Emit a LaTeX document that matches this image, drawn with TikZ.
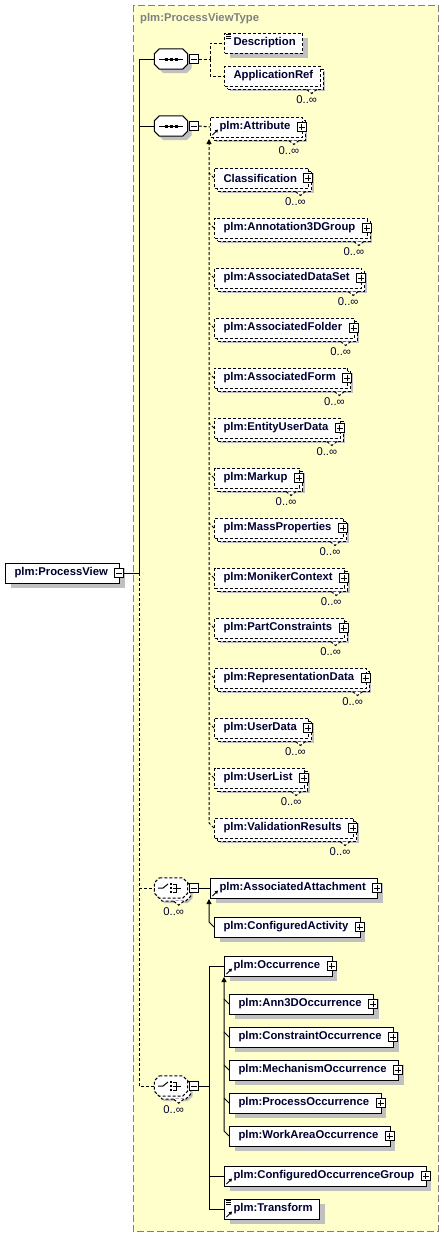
\documentclass[tikz,border=0pt]{standalone}
\usepackage{fontspec}
\setmainfont{Liberation Sans}
\usepackage{tikz}
\usetikzlibrary{arrows.meta,positioning,shadows}
\definecolor{bgyellow}{RGB}{255,255,204}
\definecolor{framegray}{RGB}{128,128,128}
\definecolor{shadowgray}{RGB}{192,192,192}
\definecolor{namecol}{RGB}{0,0,48}
\tikzset{
  elembox/.style={
    rectangle,
    draw=black,
    fill=white,
    line width=1pt,
    font=\bfseries\fontsize{11.3}{13}\selectfont,
    text=namecol,
    minimum height=20pt,
    inner sep=0pt,
    execute at begin node={\hspace*{9pt}},
    execute at end node={\hspace*{#1}},
    anchor=west,
    drop shadow={shadow xshift=5pt,shadow yshift=-5pt,fill=shadowgray,opacity=1}
  },
  elembox/.default=12pt,
  optbox/.style={dash pattern=on 3pt off 2pt},
  multibox/.style={
    general shadow={shadow xshift=3pt,shadow yshift=-3pt,draw=black,fill=white,line width=1pt,dash pattern=on 3pt off 2pt}
  },
  symbox/.style={
    rectangle,
    minimum width=33pt,
    minimum height=20pt,
    inner sep=0pt
  },
  minusbox/.style={
    rectangle,
    draw=black,
    fill=white,
    line width=1pt,
    minimum size=9pt,
    inner sep=0pt,
    path picture={
      \draw[line width=1pt] ([xshift=-3pt]path picture bounding box.center) -- ([xshift=3pt]path picture bounding box.center);
    }
  },
  plusbox/.style={
    rectangle,
    draw=black,
    fill=white,
    line width=1pt,
    minimum size=9pt,
    inner sep=0pt,
    path picture={
      \draw[line width=1pt] ([xshift=-3pt]path picture bounding box.center) -- ([xshift=3pt]path picture bounding box.center);
      \draw[line width=1pt] ([yshift=-3pt]path picture bounding box.center) -- ([yshift=3pt]path picture bounding box.center);
    }
  },
  multlabel/.style={font=\fontsize{11.3}{13}\selectfont, text=namecol, inner sep=0pt},
  typetitle/.style={font=\bfseries\fontsize{11.3}{13}\selectfont, text=framegray, inner sep=0pt, anchor=west},
  treeline/.style={line width=1pt},
  optline/.style={line width=1pt, dash pattern=on 3pt off 2pt},
  subarrow/.style={-{Triangle[length=5pt,width=5pt]}}
}
\newcommand{\octshape}[2]{%
  \path[line width=1pt,#2] ([xshift=5pt]#1.north west) -- ([xshift=-5pt]#1.north east) -- ([yshift=-5pt]#1.north east) -- ([yshift=5pt]#1.south east) -- ([xshift=-5pt]#1.south east) -- ([xshift=5pt]#1.south west) -- ([yshift=5pt]#1.south west) -- ([yshift=-5pt]#1.north west) -- cycle;}
\newcommand{\seqmark}[1]{%
  \octshape{#1}{fill=shadowgray,transform canvas={shift={(4pt,-4pt)}}}
  \octshape{#1}{draw=black,fill=white}
  \draw[line width=1pt] ([xshift=-12pt]#1.center) -- ([xshift=12pt]#1.center);
  \draw[line width=3pt,dash pattern=on 3pt off 2pt] ([xshift=-6.5pt]#1.center) -- ([xshift=6.5pt]#1.center);}
\newcommand{\choicemark}[1]{%
  \octshape{#1}{fill=shadowgray,transform canvas={shift={(5pt,-5pt)}}}
  \octshape{#1}{draw=black,fill=white,dash pattern=on 3pt off 2pt,transform canvas={shift={(3pt,-3pt)}}}
  \octshape{#1}{draw=black,fill=white,dash pattern=on 3pt off 2pt}
  \draw[line width=1pt] ([xshift=-13pt]#1.center) -- ++(5pt,0pt) -- ++(5pt,4pt);
  \draw[line width=2.5pt,dash pattern=on 2.5pt off 1.5pt] ([yshift=5.25pt]#1.center) -- ([yshift=-5.25pt]#1.center);
  \draw[line width=1pt] ([shift={(2pt,4pt)}]#1.center) -- ++(3pt,0pt) -- ++(0pt,-8pt) -- ++(-3pt,0pt);
  \draw[line width=1pt] ([xshift=2pt]#1.center) -- ++(8pt,0pt);}
\newcommand{\plusmark}[1]{\node[plusbox] (#1-plus) at ([xshift=-1pt]#1.east) {};}
\newcommand{\multmark}[1]{%
  \draw[line width=1pt,dash pattern=on 3pt off 2pt,fill=white] ([shift={(-14pt,-3pt)}]#1.south east) -- ([shift={(-9pt,-7pt)}]#1.south east) -- ([shift={(-4pt,-3pt)}]#1.south east);
  \node[multlabel] (#1-mult) at ([shift={(-14pt,-13pt)}]#1.south east) {0..∞};}
\newcommand{\docmark}[1]{%
  \draw[line width=0.8pt] ([shift={(2pt,-1.5pt)}]#1.north west) -- ++(5pt,0pt)
    ([shift={(2pt,-3.5pt)}]#1.north west) -- ++(5pt,0pt)
    ([shift={(2pt,-5.5pt)}]#1.north west) -- ++(5pt,0pt);}
\newcommand{\refmark}[1]{%
  \draw[line width=1pt,-{Triangle[length=3pt,width=3.5pt]}] ([shift={(2.5pt,2.5pt)}]#1.south west) -- ([shift={(8pt,8pt)}]#1.south west);}

\begin{document}
\begin{tikzpicture}[x=1pt,y=-1pt]
  \useasboundingbox (0,0) rectangle (444,1237);
  \fill[white] (0,0) rectangle (444,1237);
  \draw[framegray,line width=1pt,dash pattern=on 7pt off 3pt,fill=bgyellow] (133,5) rectangle (438,1231);
  \node[typetitle] (typename) at (140,19) {plm:ProcessViewType};

  \node[elembox] (pv) at (5,573) {plm:ProcessView};
  \node[minusbox] (pv-minus) at ([xshift=-1pt]pv.east) {};
  \coordinate (pvjoin) at (139,573);

  \node[symbox] (seq1) at (171,59) {};
  \seqmark{seq1}
  \node[minusbox,anchor=west] (seq1-minus) at ([xshift=1pt]seq1.east) {};
  \coordinate (seq1fork) at (210,59);
  \node[elembox=7pt,optbox] (desc) at (224,43) {Description};
  \node[elembox=7pt,optbox,multibox] (appref) at (224,76) {ApplicationRef};

  \node[symbox] (seq2) at (171,126) {};
  \seqmark{seq2}
  \node[minusbox,anchor=west] (seq2-minus) at ([xshift=1pt]seq2.east) {};
  \node[elembox,optbox,multibox] (attr) at (210,127) {plm:Attribute};
  \coordinate (attrsubtop) at (209,139);
  \node[elembox,optbox,multibox] (cls) at (214,178) {Classification};
  \node[elembox,optbox,multibox,below right=29pt and 0pt of cls.south west] (annot) {plm:Annotation3DGroup};
  \node[elembox,optbox,multibox,below right=29pt and 0pt of annot.south west] (dataset) {plm:AssociatedDataSet};
  \node[elembox,optbox,multibox,below right=29pt and 0pt of dataset.south west] (folder) {plm:AssociatedFolder};
  \node[elembox,optbox,multibox,below right=29pt and 0pt of folder.south west] (form) {plm:AssociatedForm};
  \node[elembox,optbox,multibox,below right=29pt and 0pt of form.south west] (entity) {plm:EntityUserData};
  \node[elembox,optbox,multibox,below right=29pt and 0pt of entity.south west] (markup) {plm:Markup};
  \node[elembox,optbox,multibox,below right=29pt and 0pt of markup.south west] (mass) {plm:MassProperties};
  \node[elembox,optbox,multibox,below right=29pt and 0pt of mass.south west] (moniker) {plm:MonikerContext};
  \node[elembox,optbox,multibox,below right=29pt and 0pt of moniker.south west] (partc) {plm:PartConstraints};
  \node[elembox,optbox,multibox,below right=29pt and 0pt of partc.south west] (repdata) {plm:RepresentationData};
  \node[elembox,optbox,multibox,below right=29pt and 0pt of repdata.south west] (udata) {plm:UserData};
  \node[elembox,optbox,multibox,below right=29pt and 0pt of udata.south west] (ulist) {plm:UserList};
  \node[elembox,optbox,multibox,below right=29pt and 0pt of ulist.south west] (valres) {plm:ValidationResults};

  \node[symbox] (ch1) at (171,888) {};
  \choicemark{ch1}
  \node[minusbox,anchor=west] (ch1-minus) at ([xshift=1pt]ch1.east) {};
  \node[elembox] (attach) at (210,888) {plm:AssociatedAttachment};
  \coordinate (attachsubtop) at (209,899);
  \node[elembox] (confact) at (214,927) {plm:ConfiguredActivity};

  \node[symbox] (ch2) at (171,1086) {};
  \choicemark{ch2}
  \node[minusbox,anchor=west] (ch2-minus) at ([xshift=1pt]ch2.east) {};
  \coordinate (ch2fork) at (209,1086);
  \node[elembox] (occ) at (224,966) {plm:Occurrence};
  \coordinate (occsubtop) at (224,977);
  \node[elembox,below right=17pt and 5pt of occ.south west] (ann3d) {plm:Ann3DOccurrence};
  \node[elembox,below right=12pt and 0pt of ann3d.south west] (constr) {plm:ConstraintOccurrence};
  \node[elembox,below right=12pt and 0pt of constr.south west] (mech) {plm:MechanismOccurrence};
  \node[elembox,below right=12pt and 0pt of mech.south west] (prococc) {plm:ProcessOccurrence};
  \node[elembox,below right=12pt and 0pt of prococc.south west] (workarea) {plm:WorkAreaOccurrence};
  \node[elembox] (cfgocc) at (224,1176) {plm:ConfiguredOccurrenceGroup};
  \node[elembox=7pt] (transform) at (224,1209) {plm:Transform};

  \docmark{desc}
  \multmark{appref}
  \refmark{attr}
  \plusmark{attr}
  \multmark{attr}
  \plusmark{cls}
  \multmark{cls}
  \plusmark{annot}
  \multmark{annot}
  \plusmark{dataset}
  \multmark{dataset}
  \plusmark{folder}
  \multmark{folder}
  \plusmark{form}
  \multmark{form}
  \plusmark{entity}
  \multmark{entity}
  \plusmark{markup}
  \multmark{markup}
  \plusmark{mass}
  \multmark{mass}
  \plusmark{moniker}
  \multmark{moniker}
  \plusmark{partc}
  \multmark{partc}
  \plusmark{repdata}
  \multmark{repdata}
  \plusmark{udata}
  \multmark{udata}
  \plusmark{ulist}
  \multmark{ulist}
  \plusmark{valres}
  \multmark{valres}
  \multmark{ch1}
  \refmark{attach}
  \plusmark{attach}
  \plusmark{confact}
  \multmark{ch2}
  \refmark{occ}
  \plusmark{occ}
  \plusmark{ann3d}
  \plusmark{constr}
  \plusmark{mech}
  \plusmark{prococc}
  \plusmark{workarea}
  \refmark{cfgocc}
  \plusmark{cfgocc}
  \docmark{transform}
  \refmark{transform}

  \draw[treeline] (pv-minus.east) -- (pvjoin);
  \draw[treeline] (pvjoin) |- (seq1.west);
  \draw[treeline] (pvjoin) |- (seq2.west);
  \draw[optline] (pvjoin) |- (ch1.west);
  \draw[optline] (pvjoin) |- (ch2.west);

  \draw[optline] (seq1-minus.east) -- (seq1fork);
  \draw[optline] (seq1fork) |- (desc.west);
  \draw[optline] (seq1fork) |- (appref.west);

  \draw[optline] (seq2-minus.east) -- (attr.west);
  \draw[optline,subarrow] (valres.west) -- ++(-5pt,5pt) -- (attrsubtop);
  \draw[optline] (cls.west) -- ++(-5pt,5pt);
  \draw[optline] (annot.west) -- ++(-5pt,5pt);
  \draw[optline] (dataset.west) -- ++(-5pt,5pt);
  \draw[optline] (folder.west) -- ++(-5pt,5pt);
  \draw[optline] (form.west) -- ++(-5pt,5pt);
  \draw[optline] (entity.west) -- ++(-5pt,5pt);
  \draw[optline] (markup.west) -- ++(-5pt,5pt);
  \draw[optline] (mass.west) -- ++(-5pt,5pt);
  \draw[optline] (moniker.west) -- ++(-5pt,5pt);
  \draw[optline] (partc.west) -- ++(-5pt,5pt);
  \draw[optline] (repdata.west) -- ++(-5pt,5pt);
  \draw[optline] (udata.west) -- ++(-5pt,5pt);
  \draw[optline] (ulist.west) -- ++(-5pt,5pt);

  \draw[treeline] (ch1-minus.east) -- (attach.west);
  \draw[treeline,subarrow] (confact.west) -- ++(-5pt,5pt) -- (attachsubtop);

  \draw[treeline] (ch2-minus.east) -- (ch2fork);
  \draw[treeline] (ch2fork) |- (occ.west);
  \draw[treeline] (ch2fork) |- (cfgocc.west);
  \draw[treeline] (ch2fork) |- (transform.west);
  \draw[treeline,subarrow] (workarea.west) -- ++(-5pt,5pt) -- (occsubtop);
  \draw[treeline] (ann3d.west) -- ++(-5pt,5pt);
  \draw[treeline] (constr.west) -- ++(-5pt,5pt);
  \draw[treeline] (mech.west) -- ++(-5pt,5pt);
  \draw[treeline] (prococc.west) -- ++(-5pt,5pt);
\end{tikzpicture}
\end{document}
